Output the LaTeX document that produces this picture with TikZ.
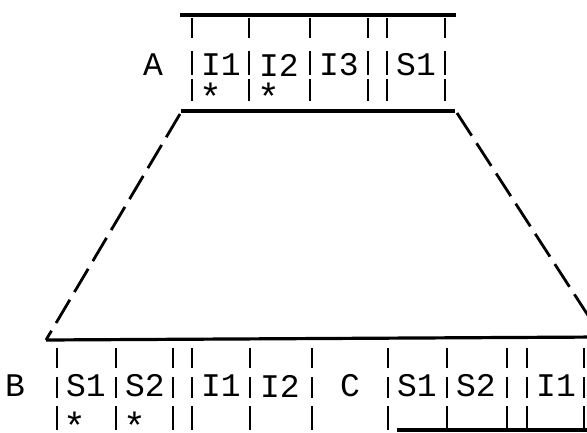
\documentclass[tikz,border=0pt]{standalone}
\usepackage{fontspec}
\setmonofont{Liberation Mono}

\newcommand{\flagstar}{\raisebox{-0.54em}{*}}

\begin{document}
\begin{tikzpicture}[x=1pt, y=-1pt]
	\tikzstyle{tt} = [font=\fontsize{33}{33}\selectfont\ttfamily, inner sep=0pt]
	% asterisk lowered onto its baseline so that the node centre is the star's centre
	\tikzstyle{star} = [font=\fontsize{38}{38}\selectfont\ttfamily, inner sep=0pt, text height=0.2em, text depth=0.2em]
	\tikzstyle{rule} = [line width=3.2pt]
	\tikzstyle{bar} = [line width=2.4pt]
	\tikzstyle{fan} = [line width=2.8pt, dash pattern=on 27pt off 9pt]
	\fill[white] (0,0) rectangle (587,433);
	\clip (0,0) rectangle (587,433);

	% record A
	\coordinate (Atl) at (180,15);
	\coordinate (Atr) at (456,15);
	\coordinate (Abl) at (181,111);
	\coordinate (Abr) at (455,111);
	\draw[rule] (Atl) -- (Atr);
	\draw[rule] (Abl) -- (Abr);
	\foreach \x in {192,249,310,368,387,445} {
		\draw[bar] (\x,18) -- (\x,38);
		\draw[bar] (\x,51) -- (\x,75);
		\draw[bar] (\x,79) -- (\x,101);
	}
	\node[tt] at (153,65) (A) {A};
	\node[tt] at (221,65) (aI1) {I1};
	\node[tt] at (279,65) (aI2) {I2};
	\node[tt] at (339,65) (aI3) {I3};
	\node[tt] at (416,65) (aS1) {S1};
	\node[star] at (211,90) (aStar1) {\flagstar};
	\node[star] at (269,90) (aStar2) {\flagstar};

	% records B and C
	\coordinate (Btl) at (46,340);
	\coordinate (Btr) at (602,337);
	\coordinate (Cbl) at (397,430);
	\coordinate (Cbr) at (602,430);
	\draw[rule] (Btl) -- (Btr);
	\draw[rule] (Cbl) -- (Cbr);
	\foreach \x in {57,116,173,192,250,312,388,447,507,527,584} {
		\draw[bar] (\x,348) -- (\x,368);
		\draw[bar] (\x,377) -- (\x,398);
		\draw[bar] (\x,406) -- (\x,430);
	}
	\node[tt] at (15,386) (B) {B};
	\node[tt] at (86,386) (bS1) {S1};
	\node[tt] at (145,386) (bS2) {S2};
	\node[tt] at (221,386) (bI1) {I1};
	\node[tt] at (280,386) (bI2) {I2};
	\node[tt] at (350,386) (C) {C};
	\node[tt] at (417,386) (cS1) {S1};
	\node[tt] at (476,386) (cS2) {S2};
	\node[tt] at (556,386) (cI1) {I1};
	\node[star] at (75,419) (bStar1) {\flagstar};
	\node[star] at (135,419) (bStar2) {\flagstar};

	% expansion of A into B and C
	\coordinate (fanl) at (180,114);
	\coordinate (fanr) at (457,113);
	\draw[fan] (fanl) -- (Btl);
	\draw[fan] (fanr) -- (Btr);
\end{tikzpicture}
\end{document}
